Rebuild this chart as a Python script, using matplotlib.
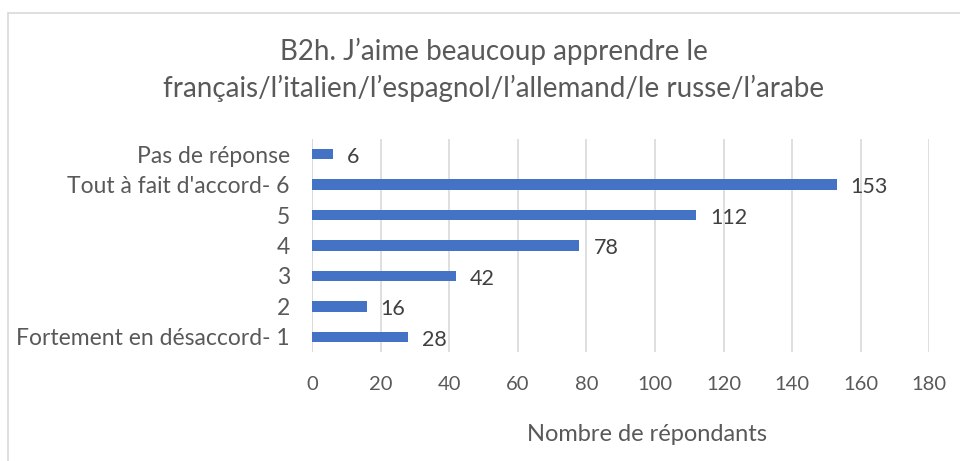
import matplotlib
matplotlib.use("Agg")
import matplotlib.pyplot as plt
from matplotlib.patches import Rectangle

categories = [
    "Fortement en désaccord- 1",
    "2",
    "3",
    "4",
    "5",
    "Tout à fait d'accord- 6",
    "Pas de réponse",
]
counts = [28, 16, 42, 78, 112, 153, 6]
xticks = [0, 20, 40, 60, 80, 100, 120, 140, 160, 180]

title = "B2h. J’aime beaucoup apprendre le\nfrançais/l’italien/l’espagnol/l’allemand/le russe/l’arabe"
xlabel = "Nombre de répondants"

plt.rcParams["font.family"] = ["Lato", "DejaVu Sans"]
text_color = "#595959"
bar_color = "#4472C4"
grid_color = "#D9D9D9"

fig = plt.figure(figsize=(9.6, 4.61), dpi=100)
ax = fig.add_axes([0.325, 0.2364, 0.643, 0.4621])

y = list(range(len(categories)))
ax.barh(y, counts, height=0.34, color=bar_color, zorder=3)
for yi, v in zip(y, counts):
    ax.annotate(str(v), (v, yi), xytext=(10, -2), textcoords="offset points",
                ha="left", va="center", fontsize=15.5, color="#404040")

ax.set_xlim(0, 180)
ax.set_ylim(-0.5, len(categories) - 0.5)
ax.set_xticks(xticks)
ax.set_yticks(y)
ax.set_yticklabels(categories)
ax.tick_params(axis="both", length=0, colors=text_color)
ax.tick_params(axis="x", pad=17, labelsize=14.5)
ax.tick_params(axis="y", pad=16, labelsize=16.5)
ax.grid(axis="x", color=grid_color, linewidth=1.2, zorder=0)
for s in ax.spines.values():
    s.set_visible(False)
ax.axvline(0, color=grid_color, linewidth=1.2, zorder=1)

fig.text(0.514, 0.848, title, ha="center", va="center", fontsize=20,
         color=text_color, linespacing=1.45)
fig.text(0.674, 0.057, xlabel, ha="center", va="center", fontsize=17,
         color=text_color)

fig.patches.append(Rectangle((8 / 960, -0.1), 1.2, 1 - 13 / 461 + 0.1,
                             transform=fig.transFigure, fill=False,
                             edgecolor="#D9D9D9", linewidth=1.2))

fig.savefig("out.png", dpi=100)
